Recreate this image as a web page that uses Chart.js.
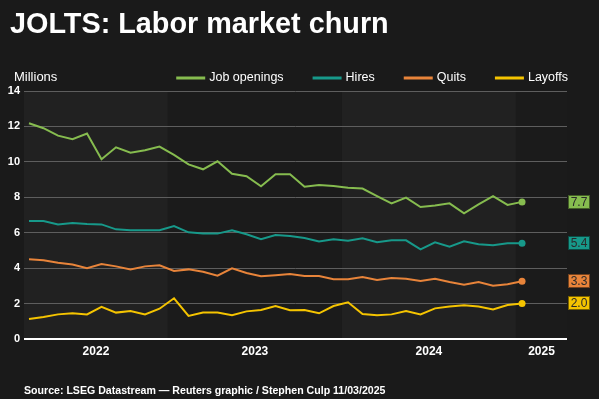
<!DOCTYPE html>
<html>
<head>
<meta charset="utf-8">
<script src="https://cdn.jsdelivr.net/npm/chart.js@4.4.1/dist/chart.umd.min.js"></script>
<style>
	html, body { margin: 0; padding: 0; background: #1a1a1a; }
	#wrap { width: 599px; height: 399px; position: relative; }
</style>
</head>
<body>
<div id="wrap"><canvas id="myChart" width="599" height="399"></canvas></div>
<script>
/* JOLTS: Labor market churn (millions, monthly) */
var months = [
	'Mar 2022', 'Apr 2022', 'May 2022', 'Jun 2022', 'Jul 2022', 'Aug 2022', 'Sep 2022', 'Oct 2022', 'Nov 2022', 'Dec 2022',
	'Jan 2023', 'Feb 2023', 'Mar 2023', 'Apr 2023', 'May 2023', 'Jun 2023', 'Jul 2023', 'Aug 2023', 'Sep 2023', 'Oct 2023', 'Nov 2023', 'Dec 2023',
	'Jan 2024', 'Feb 2024', 'Mar 2024', 'Apr 2024', 'May 2024', 'Jun 2024', 'Jul 2024', 'Aug 2024', 'Sep 2024', 'Oct 2024', 'Nov 2024', 'Dec 2024',
	'Jan 2025'
];
var years = ['2022', '2023', '2024', '2025'];
var seriesNames = ['Job openings', 'Hires', 'Quits', 'Layoffs'];
var seriesColors = ['#86bc4f', '#17998a', '#e8843a', '#f5c400'];

var jobOpenings = [12.18, 11.9, 11.48, 11.28, 11.6, 10.15, 10.82, 10.52, 10.65, 10.86,
	10.39, 9.86, 9.58, 10.03, 9.33, 9.19, 8.62, 9.3, 9.3, 8.6, 8.7, 8.64,
	8.54, 8.49, 8.07, 7.66, 7.98, 7.45, 7.53, 7.66, 7.1, 7.6, 8.07, 7.57,
	7.74];
var hires = [6.66, 6.66, 6.47, 6.55, 6.49, 6.47, 6.19, 6.14, 6.14, 6.14,
	6.38, 6.02, 5.95, 5.95, 6.14, 5.91, 5.63, 5.87, 5.82, 5.7, 5.5, 5.63,
	5.55, 5.69, 5.46, 5.57, 5.57, 5.06, 5.46, 5.21, 5.52, 5.35, 5.29, 5.4,
	5.4];
var quits = [4.5, 4.44, 4.31, 4.2, 4.0, 4.23, 4.1, 3.93, 4.1, 4.16,
	3.84, 3.93, 3.8, 3.57, 3.99, 3.73, 3.54, 3.6, 3.67, 3.56, 3.56, 3.37,
	3.37, 3.5, 3.33, 3.44, 3.4, 3.27, 3.4, 3.22, 3.07, 3.22, 3.01, 3.09,
	3.26];
var layoffs = [1.13, 1.24, 1.39, 1.45, 1.39, 1.81, 1.49, 1.58, 1.39, 1.71,
	2.3, 1.3, 1.5, 1.5, 1.34, 1.56, 1.64, 1.86, 1.62, 1.64, 1.45, 1.86,
	2.07, 1.41, 1.34, 1.39, 1.58, 1.39, 1.73, 1.84, 1.9, 1.84, 1.67, 1.92,
	2.01];
var yTicks = [0, 2, 4, 6, 8, 10, 12, 14];

var FONT = "'Liberation Sans', Arial, sans-serif";
var X_MIN = -0.345, X_MAX = 37.1;

// year band edges (in month index units), a bit before each January
function yearEdges() {
	var edges = [X_MIN];
	months.forEach(function (m, i) {
		if (m.indexOf('Jan') === 0) edges.push(i - 0.42);
	});
	edges.push(X_MAX);
	return edges;
}

function toPoints(arr) {
	return arr.map(function (v, i) { return { x: i, y: v }; });
}

var allSeries = [jobOpenings, hires, quits, layoffs];
var chartDataset = {
	datasets: allSeries.map(function (arr, k) {
		return {
			label: seriesNames[k],
			data: toPoints(arr),
			borderColor: seriesColors[k],
			backgroundColor: seriesColors[k],
			borderWidth: 2,
			tension: 0,
			clip: false,
			pointRadius: function (ctx) { return ctx.dataIndex === arr.length - 1 ? 3.5 : 0; },
			pointBorderWidth: 0,
			pointHoverRadius: 0
		};
	})
};

const bandPlugin = {
	id: 'bandPlugin',
	beforeDraw(chart) {
		const { ctx, chartArea: { top, bottom }, scales: { x } } = chart;
		ctx.save();
		ctx.fillStyle = '#1a1a1a';
		ctx.fillRect(0, 0, chart.width, chart.height);
		var e = yearEdges();
		for (var i = 0; i < e.length - 1; i++) {
			var x0 = x.getPixelForValue(e[i]);
			var x1 = x.getPixelForValue(e[i + 1]);
			ctx.fillStyle = (i % 2 === 0) ? '#212121' : '#1b1b1b';
			ctx.fillRect(x0, top, x1 - x0, bottom - top);
		}
		ctx.restore();
	}
};

const textPlugin = {
	id: 'textPlugin',
	afterDraw(chart) {
		const { ctx, scales: { y } } = chart;
		ctx.save();
		// title
		ctx.fillStyle = '#ffffff';
		ctx.textBaseline = 'alphabetic';
		ctx.textAlign = 'left';
		ctx.font = 'bold 28.8px ' + FONT;
		ctx.fillText('JOLTS: Labor market churn', 10, 33);
		// unit
		ctx.font = '13px ' + FONT;
		ctx.textBaseline = 'middle';
		ctx.fillText('Millions', 14, 77);
		// legend, right aligned to the plot
		ctx.font = '12.5px ' + FONT;
		var xr = 568;
		for (var k = seriesNames.length - 1; k >= 0; k--) {
			var w = ctx.measureText(seriesNames[k]).width;
			var tx = xr - w;
			ctx.fillStyle = '#ffffff';
			ctx.fillText(seriesNames[k], tx, 78);
			ctx.strokeStyle = seriesColors[k];
			ctx.lineWidth = 3;
			ctx.beginPath();
			ctx.moveTo(tx - 33, 78);
			ctx.lineTo(tx - 4, 78);
			ctx.stroke();
			xr = tx - 33 - 29;
		}
		// last value boxes
		ctx.font = '12px ' + FONT;
		ctx.textAlign = 'center';
		allSeries.forEach(function (arr, k) {
			var v = arr[arr.length - 1];
			var py = Math.round(y.getPixelForValue(v));
			ctx.fillStyle = seriesColors[k];
			ctx.fillRect(568, py - 7, 22, 14);
			ctx.strokeStyle = 'rgba(0,0,0,0.5)';
			ctx.lineWidth = 1;
			ctx.strokeRect(568.5, py - 6.5, 21, 13);
			ctx.fillStyle = '#2a2a2a';
			ctx.fillText(v.toFixed(1), 579, py + 0.5);
		});
		// source
		ctx.textAlign = 'left';
		ctx.fillStyle = '#ffffff';
		ctx.font = 'bold 10.6px ' + FONT;
		ctx.fillText('Source: LSEG Datastream \u2014 Reuters graphic / Stephen Culp 11/03/2025', 24, 391);
		ctx.restore();
	}
};

var chartOption = {
	responsive: false,
	animation: false,
	maintainAspectRatio: false,
	events: [],
	layout: {
		padding: { left: 0, right: 32, top: 91, bottom: 0 }
	},
	plugins: {
		legend: { display: false },
		title: { display: false },
		tooltip: { enabled: false }
	},
	scales: {
		x: {
			type: 'linear',
			min: X_MIN,
			max: X_MAX,
			afterBuildTicks: function (axis) {
				var e = yearEdges();
				axis.ticks = years.map(function (yr, i) {
					return { value: (e[i] + e[i + 1]) / 2 };
				});
			},
			afterFit: function (axis) { axis.height = 60; },
			ticks: {
				autoSkip: false,
				maxRotation: 0,
				minRotation: 0,
				padding: 5,
				color: '#ffffff',
				font: { family: FONT, size: 12, weight: 'bold' },
				callback: function (value, index) { return years[index]; }
			},
			grid: { display: false, drawTicks: false },
			border: { display: false }
		},
		y: {
			min: 0,
			max: 14,
			afterBuildTicks: function (axis) {
				axis.ticks = yTicks.map(function (v) { return { value: v }; });
			},
			afterFit: function (axis) { axis.width = 24; },
			ticks: {
				color: '#ffffff',
				padding: 4,
				font: { family: FONT, size: 11, weight: 'bold' }
			},
			grid: {
				drawTicks: false,
				color: function (c) { return c.tick && c.tick.value === 0 ? '#ffffff' : '#5e5e5e'; },
				lineWidth: function (c) { return c.tick && c.tick.value === 0 ? 2 : 1; }
			},
			border: { display: false }
		}
	}
};

var myChart = new Chart(document.getElementById('myChart'), {
	type: 'line',
	data: chartDataset,
	options: chartOption,
	plugins: [bandPlugin, textPlugin]
});
</script>
</body>
</html>
